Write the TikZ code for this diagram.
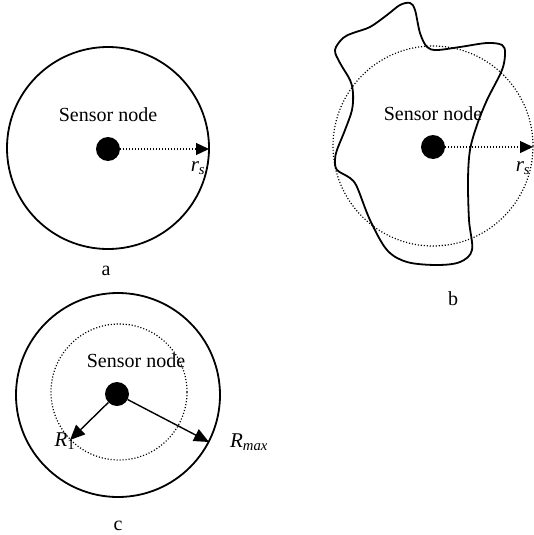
\documentclass[tikz,border=0pt]{standalone}
\usepackage{fontspec}
\setmainfont{Liberation Serif}
\usetikzlibrary{arrows.meta}
\tikzset{
  ring/.style={draw=black, line width=1.8pt},
  dotring/.style={draw=black, line width=1.2pt, dash pattern=on 1.1pt off 1.9pt},
  dot/.style={circle, fill=black, inner sep=0pt, minimum size=24pt},
  lbl/.style={inner sep=0pt, font=\fontsize{20}{24}\selectfont},
  mlbl/.style={inner sep=0pt, font=\fontsize{21}{25}\selectfont\itshape},
  dotarrow/.style={line width=1.3pt, dash pattern=on 1.1pt off 1.9pt, -{Triangle[length=13pt,width=12pt]}},
  solidarrow/.style={line width=1.4pt, -{Triangle[length=15pt,width=13pt]}},
  blob/.style={draw=black, line width=1.8pt}
}
\begin{document}
\begin{tikzpicture}[x=1pt,y=-1pt]
\useasboundingbox (0,0) rectangle (534,535);
% panel a
\draw[ring] (108,148) circle[radius=101pt];
\node[dot] (sa) at (108,149) {};
\coordinate (ta) at (209,149);
\draw[dotarrow] (sa) -- (ta);
\node[lbl] (na) at (108,115) {Sensor node};
\node[mlbl] (ra) at (198,168) {r\textsubscript{s}};
\node[lbl] (la) at (106,271) {a};
% panel b
\draw[dotring] (433,146) circle[radius=100pt];
\draw[blob] plot[smooth cycle, tension=0.55] coordinates {
 (335,50) (343,38) (353,33) (370,27) (387,15) (400,5) (410,3) (415,10)
 (420,33) (427,47) (437,50) (460,47) (487,43) (502,45) (505,53) (502,70)
 (487,100) (477,125) (470,150) (468,180) (469,220) (472,250) (460,262)
 (437,265) (407,262) (387,250) (370,220) (357,187) (350,178) (337,170)
 (335,160) (337,150) (345,130) (352,110) (353,93) (350,80) (340,63)};
\node[dot] (sb) at (433,147) {};
\coordinate (tb) at (533,147);
\draw[dotarrow] (sb) -- (tb);
\node[lbl] (nb) at (433,114) {Sensor node};
\node[mlbl] (rb) at (523,168) {r\textsubscript{s}};
\node[lbl] (lb) at (453,299) {b};
% panel c
\draw[ring] (118,395) circle[radius=102pt];
\draw[dotring] (119,392) circle[radius=68pt];
\node[dot] (sc) at (117,394) {};
\coordinate (t1) at (70,440);
\coordinate (tm) at (209,442);
\draw[solidarrow] (sc) -- (t1);
\draw[solidarrow] (sc) -- (tm);
\node[lbl] (nc) at (136,361) {Sensor node};
\node[mlbl] (r1) at (65,441) {R\textsubscript{\upshape 1}};
\node[mlbl] (rm) at (249,442) {R\textsubscript{max}};
\node[lbl] (lc) at (118,526) {c};
\end{tikzpicture}
\end{document}
